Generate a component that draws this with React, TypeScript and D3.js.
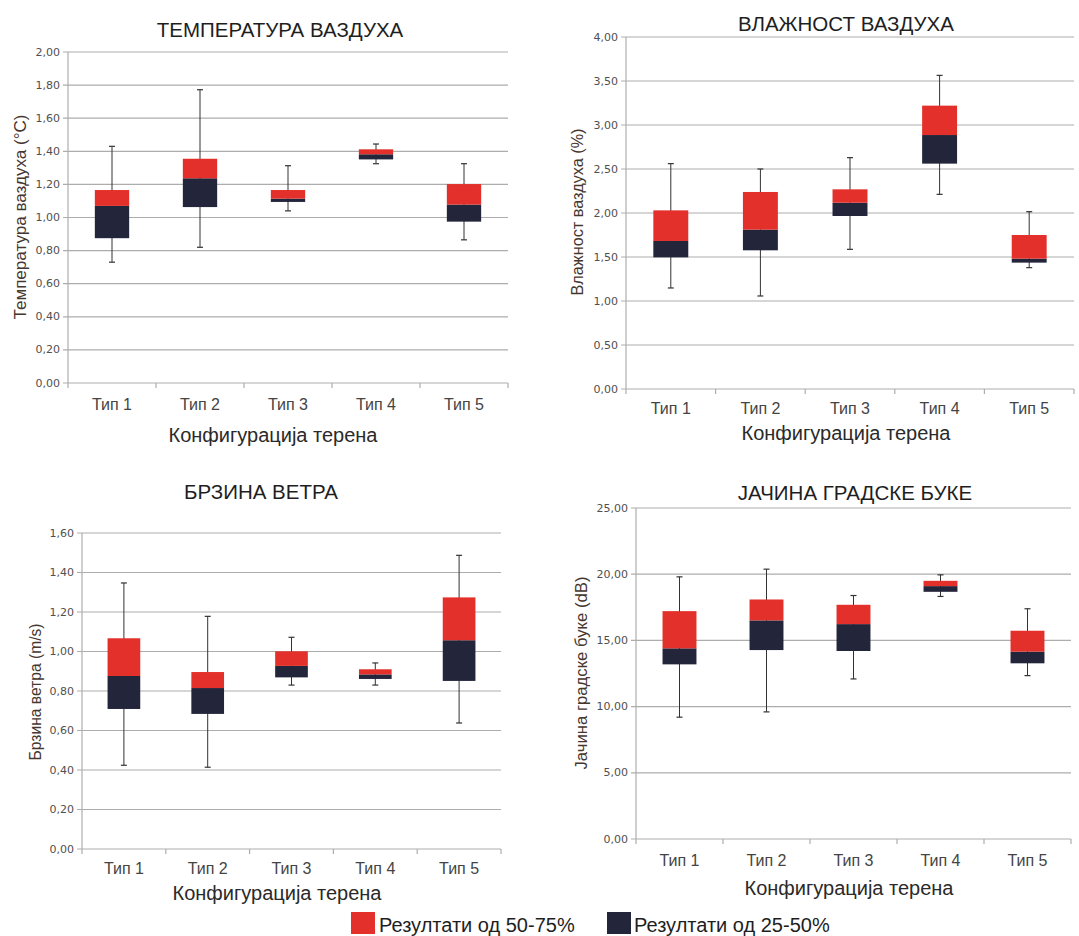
import React from "react";
import * as d3 from "d3";

const categories = ["Тип 1", "Тип 2", "Тип 3", "Тип 4", "Тип 5"];

// Температура ваздуха
const tempMin = [0.73, 0.82, 1.04, 1.325, 0.865];
const tempQ1 = [0.875, 1.063, 1.094, 1.351, 0.975];
const tempMedian = [1.07, 1.237, 1.114, 1.382, 1.078];
const tempQ3 = [1.166, 1.355, 1.166, 1.412, 1.202];
const tempMax = [1.43, 1.772, 1.313, 1.444, 1.325];
const tempTicks = [0, 0.2, 0.4, 0.6, 0.8, 1.0, 1.2, 1.4, 1.6, 1.8, 2.0];

// Влажност ваздуха
const humMin = [1.148, 1.057, 1.587, 2.212, 1.379];
const humQ1 = [1.496, 1.576, 1.966, 2.561, 1.436];
const humMedian = [1.682, 1.811, 2.117, 2.886, 1.481];
const humQ3 = [2.03, 2.239, 2.269, 3.22, 1.75];
const humMax = [2.561, 2.5, 2.629, 3.564, 2.015];
const humTicks = [0, 0.5, 1.0, 1.5, 2.0, 2.5, 3.0, 3.5, 4.0];

// Брзина ветра
const windMin = [0.424, 0.414, 0.83, 0.83, 0.638];
const windQ1 = [0.709, 0.684, 0.869, 0.861, 0.851];
const windMedian = [0.876, 0.815, 0.927, 0.884, 1.057];
const windQ3 = [1.067, 0.896, 1.001, 0.91, 1.274];
const windMax = [1.347, 1.178, 1.072, 0.942, 1.487];
const windTicks = [0, 0.2, 0.4, 0.6, 0.8, 1.0, 1.2, 1.4, 1.6];

// Јачина градске буке
const noiseMin = [9.2, 9.6, 12.09, 18.32, 12.34];
const noiseQ1 = [13.19, 14.27, 14.2, 18.67, 13.27];
const noiseMedian = [14.4, 16.51, 16.23, 19.1, 14.15];
const noiseQ3 = [17.21, 18.09, 17.69, 19.5, 15.73];
const noiseMax = [19.8, 20.38, 18.39, 19.95, 17.39];
const noiseTicks = [0, 5, 10, 15, 20, 25];

const legendLabels = ["Резултати од 50-75%", "Резултати од 25-50%"];

const RED = "#e3302a";
const NAVY = "#23253b";
const GRID = "#adadad";
const FONT = "'Liberation Sans', Arial, sans-serif";
const TICKFONT = "'DejaVu Sans', Verdana, sans-serif";

const fmt = (v: number) => d3.format(".2f")(v).replace(".", ",");

type PanelProps = {
  title: string;
  yTitle: string;
  xTitle: string;
  min: number[];
  q1: number[];
  median: number[];
  q3: number[];
  max: number[];
  ticks: number[];
  left: number;
  right: number;
  top: number;
  bottom: number;
  titleX: number;
  titleY: number;
  yTitleX: number;
  yTitleY: number;
  yTitleLen: number;
  catY: number;
  xTitleX: number;
  xTitleY: number;
};

function Panel(p: PanelProps) {
  const x = d3.scaleBand<string>().domain(categories).range([p.left, p.right]);
  const y = d3
    .scaleLinear()
    .domain([p.ticks[0], p.ticks[p.ticks.length - 1]])
    .range([p.bottom, p.top]);
  const bw = x.bandwidth() * 0.39;
  const capW = 6;
  return (
    <g>
      <text
        x={p.titleX}
        y={p.titleY}
        textAnchor="middle"
        dominantBaseline="central"
        fontFamily={FONT}
        fontSize={20.5}
        fill="#1e1e1e"
      >
        {p.title}
      </text>
      {p.ticks.map((t, i) => (
        <g key={"t" + i}>
          <line
            x1={p.left - 5}
            x2={p.right}
            y1={y(t)}
            y2={y(t)}
            stroke={GRID}
            strokeWidth={1.2}
          />
          <text
            x={p.left - 8}
            y={y(t)}
            textAnchor="end"
            dominantBaseline="central"
            fontFamily={TICKFONT}
            fontSize={11}
            fill="#505050"
          >
            {fmt(t)}
          </text>
        </g>
      ))}
      <line x1={p.left} x2={p.left} y1={p.top} y2={p.bottom + 5} stroke={GRID} strokeWidth={1.2} />
      {categories.map((c, i) => (
        <line
          key={"xt" + i}
          x1={(x(c) as number) + x.bandwidth()}
          x2={(x(c) as number) + x.bandwidth()}
          y1={p.bottom}
          y2={p.bottom + 5}
          stroke={GRID}
          strokeWidth={1.2}
        />
      ))}
      {categories.map((c, i) => {
        const cx = (x(c) as number) + x.bandwidth() / 2;
        return (
          <g key={"b" + i}>
            <line x1={cx} x2={cx} y1={y(p.max[i])} y2={y(p.min[i])} stroke="#333" strokeWidth={1} />
            <line x1={cx - capW / 2} x2={cx + capW / 2} y1={y(p.max[i])} y2={y(p.max[i])} stroke="#333" strokeWidth={1.2} />
            <line x1={cx - capW / 2} x2={cx + capW / 2} y1={y(p.min[i])} y2={y(p.min[i])} stroke="#333" strokeWidth={1.2} />
            <rect
              x={cx - bw / 2}
              width={bw}
              y={y(p.median[i])}
              height={y(p.q1[i]) - y(p.median[i])}
              fill={NAVY}
            />
            <rect
              x={cx - bw / 2}
              width={bw}
              y={y(p.q3[i])}
              height={y(p.median[i]) - y(p.q3[i])}
              fill={RED}
            />
            <text
              x={cx}
              y={p.catY}
              textAnchor="middle"
              dominantBaseline="central"
              fontFamily={FONT}
              fontSize={16}
              fill="#444"
            >
              {c}
            </text>
          </g>
        );
      })}
      <text
        x={p.xTitleX}
        y={p.xTitleY}
        textAnchor="middle"
        dominantBaseline="central"
        fontFamily={FONT}
        fontSize={20}
        fill="#2a2a2a"
      >
        {p.xTitle}
      </text>
      <text
        transform={`translate(${p.yTitleX},${p.yTitleY}) rotate(-90)`}
        textAnchor="middle"
        dominantBaseline="central"
        fontFamily={FONT}
        fontSize={16.5}
        fill="#45362e"
        textLength={p.yTitleLen}
        lengthAdjust="spacingAndGlyphs"
      >
        {p.yTitle}
      </text>
    </g>
  );
}

export default function App() {
  const xTitle = "Конфигурација терена";
  return (
    <svg
      width={1079}
      height={936}
      style={{ position: "absolute", left: 0, top: 0, background: "#fff" }}
    >
      <rect width={1079} height={936} fill="#fff" />
      <Panel
        title="ТЕМПЕРАТУРА ВАЗДУХА"
        yTitle="Температура ваздуха (°C)"
        xTitle={xTitle}
        min={tempMin}
        q1={tempQ1}
        median={tempMedian}
        q3={tempQ3}
        max={tempMax}
        ticks={tempTicks}
        left={68}
        right={508}
        top={52}
        bottom={383}
        titleX={280}
        titleY={29}
        yTitleX={20}
        yTitleY={217}
        yTitleLen={205}
        catY={404}
        xTitleX={273}
        xTitleY={435}
      />
      <Panel
        title="ВЛАЖНОСТ ВАЗДУХА"
        yTitle="Влажност ваздуха (%)"
        xTitle={xTitle}
        min={humMin}
        q1={humQ1}
        median={humMedian}
        q3={humQ3}
        max={humMax}
        ticks={humTicks}
        left={626}
        right={1074}
        top={37}
        bottom={389}
        titleX={846}
        titleY={23}
        yTitleX={577}
        yTitleY={212}
        yTitleLen={167}
        catY={408}
        xTitleX={846}
        xTitleY={433}
      />
      <Panel
        title="БРЗИНА ВЕТРА"
        yTitle="Брзина ветра (m/s)"
        xTitle={xTitle}
        min={windMin}
        q1={windQ1}
        median={windMedian}
        q3={windQ3}
        max={windMax}
        ticks={windTicks}
        left={82}
        right={501}
        top={533}
        bottom={849}
        titleX={261}
        titleY={491}
        yTitleX={35}
        yTitleY={692}
        yTitleLen={137}
        catY={868}
        xTitleX={277}
        xTitleY={893}
      />
      <Panel
        title="ЈАЧИНА ГРАДСКЕ БУКЕ"
        yTitle="Јачина градске буке (dB)"
        xTitle={xTitle}
        min={noiseMin}
        q1={noiseQ1}
        median={noiseMedian}
        q3={noiseQ3}
        max={noiseMax}
        ticks={noiseTicks}
        left={636}
        right={1071}
        top={508}
        bottom={839}
        titleX={855}
        titleY={492}
        yTitleX={581}
        yTitleY={673}
        yTitleLen={193}
        catY={860}
        xTitleX={849}
        xTitleY={888}
      />
      <g>
        <rect x={351} y={912} width={24} height={22} fill={RED} />
        <text x={379} y={925} dominantBaseline="central" fontFamily={FONT} fontSize={20} fill="#1e1e1e">
          {legendLabels[0]}
        </text>
        <rect x={607} y={912} width={24} height={22} fill={NAVY} />
        <text x={634} y={925} dominantBaseline="central" fontFamily={FONT} fontSize={20} fill="#1e1e1e">
          {legendLabels[1]}
        </text>
      </g>
    </svg>
  );
}
